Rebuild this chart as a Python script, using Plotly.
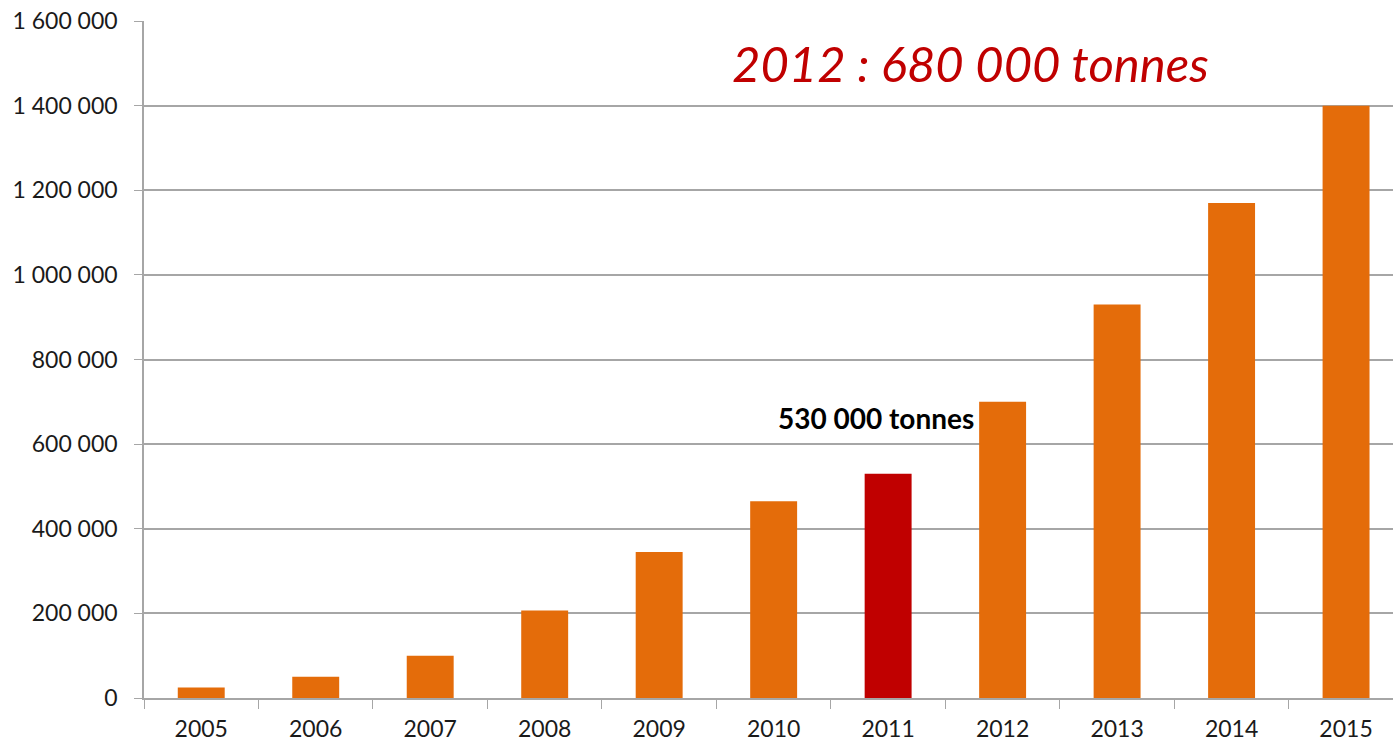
import plotly.graph_objects as go

years = ["2005", "2006", "2007", "2008", "2009", "2010", "2011", "2012", "2013", "2014", "2015"]
tonnes = [25000, 50000, 100000, 207000, 345000, 465000, 530000, 700000, 930000, 1170000, 1400000]
highlight_year = "2011"
y_ticks = [0, 200000, 400000, 600000, 800000, 1000000, 1200000, 1400000, 1600000]
y_ticktext = ["0", "200 000", "400 000", "600 000", "800 000", "1 000 000", "1 200 000", "1 400 000", "1 600 000"]

ORANGE = "#E46C0A"
RED = "#C00000"
colors = [RED if y == highlight_year else ORANGE for y in years]

fig = go.Figure(go.Bar(
    x=years, y=tonnes, marker=dict(color=colors, line=dict(width=0)),
    width=0.41,
))

grid = "#a6a6a6"
fig.update_layout(
    width=1393, height=742,
    margin=dict(l=144, r=0, t=21, b=44),
    plot_bgcolor="white", paper_bgcolor="white",
    font=dict(family="Lato, Open Sans, sans-serif", size=23, color="#1a1a1a"),
    showlegend=False,
    xaxis=dict(
        type="category", range=[-0.5, 10.41], automargin=False,
        showline=True, linecolor=grid, linewidth=1.5,
        ticks="outside", tickson="boundaries", ticklen=9, tickcolor=grid,
        tickfont=dict(size=23), showgrid=False, ticklabelstandoff=10,
    ),
    yaxis=dict(
        range=[0, 1600000], tickvals=y_ticks, ticktext=y_ticktext, automargin=False,
        showgrid=True, gridcolor=grid, gridwidth=1.5,
        showline=True, linecolor=grid, linewidth=1.5,
        ticks="outside", ticklen=8, tickcolor=grid,
        tickfont=dict(size=23), zeroline=False, ticklabelstandoff=12,
    ),
    annotations=[
        dict(text="<b>530 000 tonnes</b>", xref="paper", yref="y", x=0.666, y=662000,
             xanchor="right", yanchor="middle", showarrow=False,
             font=dict(size=28, color="black")),
        dict(text="<i>2012 : 680 000 tonnes</i>", xref="paper", yref="y", x=0.662, y=1500000,
             xanchor="center", yanchor="middle", showarrow=False,
             font=dict(size=49, color=RED)),
    ],
)

fig.write_html("out.html", config={"displayModeBar": False},
               post_script="document.body.style.margin='0';")
